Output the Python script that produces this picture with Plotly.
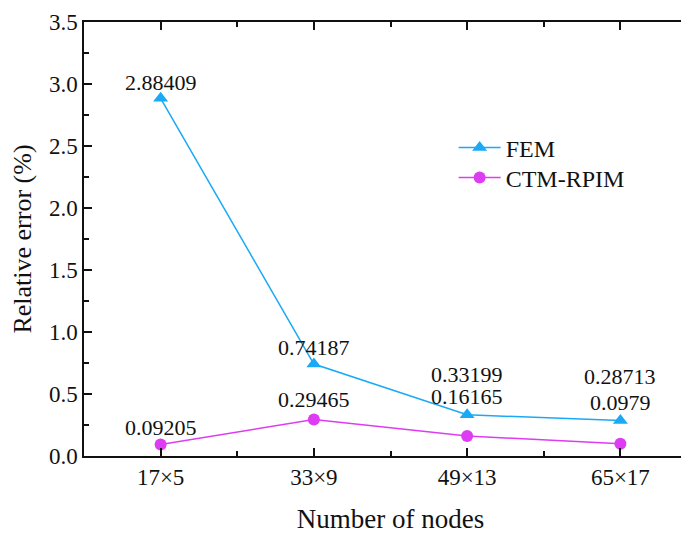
import plotly.graph_objects as go

categories = ["17×5", "33×9", "49×13", "65×17"]
fem = [2.88409, 0.74187, 0.33199, 0.28713]
ctm = [0.09205, 0.29465, 0.16165, 0.0979]
fem_labels = ["2.88409", "0.74187", "0.33199", "0.28713"]
ctm_labels = ["0.09205", "0.29465", "0.16165", "0.0979"]

# label pixel offsets (style only)
fem_shift = [16, 17, 40, 44]
ctm_shift = [17, 20, 39, 41]

FONT = "Liberation Serif, Times New Roman, serif"
BLUE = "#1aaaf5"
MAG = "#dd3cf2"

xi = list(range(len(categories)))

fig = go.Figure()
fig.add_trace(go.Scatter(
    x=xi, y=fem, mode="lines+markers", name="FEM", legend="legend",
    line=dict(color=BLUE, width=1.5),
    marker=dict(symbol="triangle-up", size=13, color=BLUE),
))
fig.add_trace(go.Scatter(
    x=xi, y=ctm, mode="lines+markers", name="CTM-RPIM", legend="legend2",
    line=dict(color=MAG, width=1.5),
    marker=dict(symbol="circle", size=12, color=MAG),
))
# invisible trace to carry right-side ticks
fig.add_trace(go.Scatter(x=[xi[0]], y=[0], yaxis="y2", xaxis="x", mode="markers",
                         marker=dict(opacity=0), showlegend=False, hoverinfo="skip"))

for xs, ys, labs, shifts in [(xi, fem, fem_labels, fem_shift), (xi, ctm, ctm_labels, ctm_shift)]:
    for x, y, t, s in zip(xs, ys, labs, shifts):
        fig.add_annotation(x=x, y=y, text=t, showarrow=False, yshift=s,
                           font=dict(family=FONT, size=22, color="#111"))

leg_common = dict(xanchor="left", yanchor="middle",
                  font=dict(family=FONT, size=24, color="#111"),
                  bgcolor="rgba(0,0,0,0)", itemwidth=42)

fig.update_layout(
    width=689, height=527,
    margin=dict(l=76, r=0, t=14, b=79, autoexpand=False),
    paper_bgcolor="white", plot_bgcolor="white",
    font=dict(family=FONT, size=22, color="#111"),
    showlegend=True,
    legend=dict(x=0.603, y=0.71, **leg_common),
    legend2=dict(x=0.603, y=0.641, **leg_common),
    xaxis=dict(
        range=[-0.5, 3.5], tickmode="array", tickvals=xi, ticktext=categories,
        showline=True, linecolor="#111", linewidth=1.5, mirror="ticks",
        ticks="inside", ticklen=8, tickwidth=1.5, tickcolor="#111",
        showgrid=False, zeroline=False, automargin=False,
        minor=dict(tickvals=[0.5, 1.5, 2.5], ticks="inside", ticklen=5, tickwidth=1.5, tickcolor="#111"),
        title=dict(text="Number of nodes", font=dict(family=FONT, size=27), standoff=20),
        tickfont=dict(family=FONT, size=23),
    ),
    yaxis=dict(
        range=[0, 3.5], dtick=0.5, tick0=0, tickformat=".1f",
        showline=True, linecolor="#111", linewidth=1.5,
        ticks="inside", ticklen=8, tickwidth=1.5, tickcolor="#111",
        showgrid=False, zeroline=False, automargin=False,
        minor=dict(dtick=0.25, ticks="inside", ticklen=5, tickwidth=1.5, tickcolor="#111"),
        title=dict(text="Relative error (%)", font=dict(family=FONT, size=26), standoff=10),
        tickfont=dict(family=FONT, size=23),
    ),
    yaxis2=dict(
        overlaying="y", side="right", anchor="x", range=[0, 3.5], dtick=0.5, tick0=0,
        showline=False, showticklabels=False, showgrid=False, zeroline=False,
        ticks="inside", ticklen=11, tickwidth=1.5, tickcolor="#111", automargin=False,
    ),
)

fig.write_html("out.html")
